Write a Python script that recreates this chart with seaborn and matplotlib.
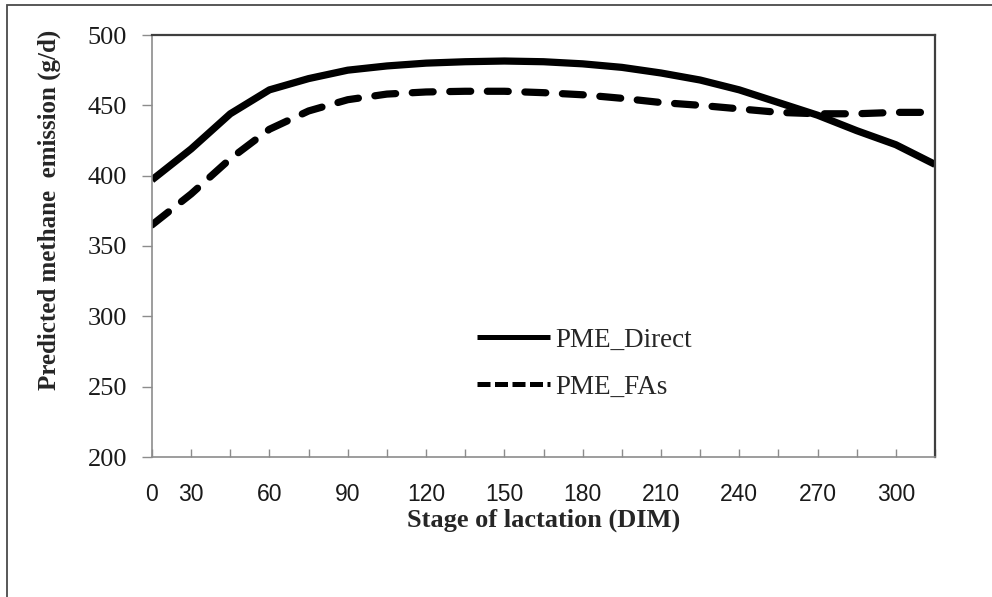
import numpy as np
import pandas as pd
import matplotlib
matplotlib.use("Agg")
import matplotlib.pyplot as plt
from matplotlib.patches import Rectangle
import seaborn as sns

# Sampling points along lactation (one every 15 days), x-axis category positions
stage_points = list(range(21))

# Predicted methane emission (g/d)
pme_direct = [397, 419, 444, 461, 469, 475, 478, 480, 481, 481.5, 481,
              479.5, 477, 473, 468, 461, 452, 443, 432, 422, 408]
pme_fas = [365, 387, 412, 433, 446, 454, 458, 459.5, 460, 460, 459,
           457.5, 455, 452, 450, 447.5, 445, 444, 444, 445, 445]

series_names = ["PME_Direct", "PME_FAs"]

# Axis labels
dim_tick_positions = [0, 1, 3, 5, 7, 9, 11, 13, 15, 17, 19]
dim_tick_labels = ["0", "30", "60", "90", "120", "150", "180", "210", "240", "270", "300"]
y_ticks = [200, 250, 300, 350, 400, 450, 500]

df = pd.DataFrame({
    "stage": stage_points * 2,
    "pme": pme_direct + pme_fas,
    "series": [series_names[0]] * len(stage_points) + [series_names[1]] * len(stage_points),
})

sns.set_theme(style="white")
plt.rcParams["font.family"] = ["Liberation Serif", "DejaVu Serif"]

fig = plt.figure(figsize=(9.92, 5.97), dpi=100)
ax = fig.add_axes([152 / 992, 1 - 457 / 597, 783 / 992, 422 / 597])

sns.lineplot(
    data=df, x="stage", y="pme", style="series",
    dashes={"PME_Direct": "", "PME_FAs": (2.9, 2.3)},
    color="black", linewidth=5.2, ax=ax, legend=True,
)
for ln in ax.get_lines():
    ln.set_dash_capstyle("round")
    ln.set_solid_capstyle("butt")

ax.set_xlim(0, 20)
ax.set_ylim(200, 500)

# x axis: ticks at every sampling point, labels at selected stages
ax.set_xticks(stage_points, minor=False)
labels_full = [""] * len(stage_points)
for pos, lab in zip(dim_tick_positions, dim_tick_labels):
    labels_full[pos] = lab
ax.set_xticklabels(labels_full, fontfamily=["Liberation Sans Narrow", "Liberation Sans"],
                   fontsize=16.5, color="#1a1a1a")
ax.tick_params(axis="x", direction="in", length=6, width=1, color="#8c8c8c",
               pad=19, bottom=True)

ax.set_yticks(y_ticks)
ax.set_yticklabels([str(v) for v in y_ticks], fontsize=19, color="#1a1a1a")
ax.tick_params(axis="y", direction="out", length=7, width=1, color="#8c8c8c",
               pad=11, left=True)

for side in ["left", "bottom"]:
    ax.spines[side].set_color("#8c8c8c")
    ax.spines[side].set_linewidth(1.2)
for side in ["top", "right"]:
    ax.spines[side].set_color("#3f3f3f")
    ax.spines[side].set_linewidth(1.6)

ax.set_xlabel("Stage of lactation (DIM)", fontsize=19, fontweight="bold", va="center")
ax.xaxis.set_label_coords(0.5, -0.150)
ax.set_ylabel("Predicted methane  emission (g/d)", fontsize=18, fontweight="bold", va="center")
ax.yaxis.set_label_coords(-0.131, 0.585)

handles, labels = ax.get_legend_handles_labels()
leg = ax.legend(handles, labels, loc="center left", bbox_to_anchor=(0.415, 0.2216),
                frameon=False, fontsize=19.5, handlelength=2.7, handletextpad=0.2,
                labelspacing=0.82, borderpad=0, borderaxespad=0)
leg_lines = leg.get_lines()
for h in leg_lines:
    h.set_linewidth(3.6)
    h.set_solid_capstyle("butt")
leg_lines[1].set_linestyle((0, (2.6, 0.9)))
leg_lines[1].set_dash_capstyle("butt")

# Outer chart-area border (top and left edges visible)
fig.patches.append(Rectangle((7 / 992, -0.2), 2.0, 1.2 - 5 / 597, transform=fig.transFigure,
                             fill=False, edgecolor="#4a4a4a", linewidth=1.3, clip_on=False))

fig.savefig("out.png", dpi=100)
